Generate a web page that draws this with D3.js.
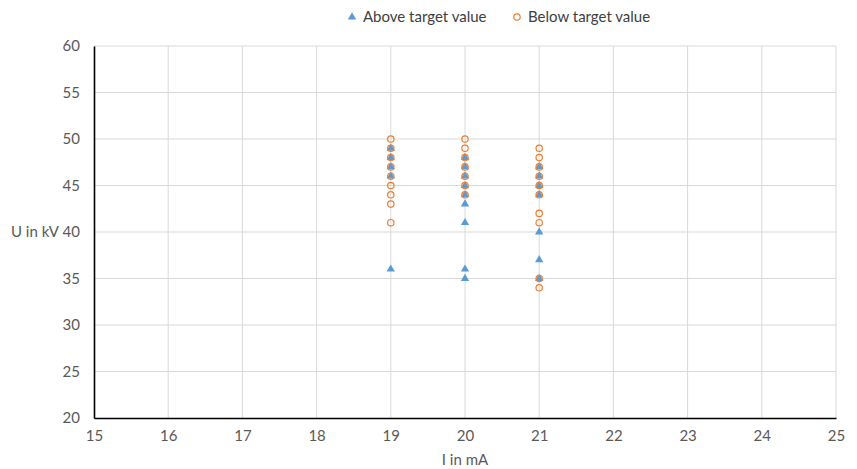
<!DOCTYPE html>
<html>
<head>
<meta charset="utf-8">
<script src="https://cdn.jsdelivr.net/npm/d3@7"></script>
<style>
  body { margin: 0; background: #fff; }
  svg { display: block; font-family: Lato, "Open Sans", sans-serif; }
</style>
</head>
<body>
<svg id="chart" width="857" height="469"></svg>
<script>
// Current (mA) and voltage (kV) readings, split by target outcome
const aboveI = [19, 19, 19, 19, 19,
                20, 20, 20, 20, 20, 20, 20, 20, 20,
                21, 21, 21, 21, 21, 21, 21];
const aboveU = [49, 48, 47, 46, 36,
                48, 47, 46, 45, 44, 43, 41, 36, 35,
                47, 46, 45, 44, 40, 37, 35];

const belowI = [19, 19, 19, 19, 19, 19, 19, 19, 19,
                20, 20, 20, 20, 20, 20, 20,
                21, 21, 21, 21, 21, 21, 21, 21, 21, 21];
const belowU = [50, 49, 48, 47, 46, 45, 44, 43, 41,
                50, 49, 48, 47, 46, 45, 44,
                49, 48, 47, 46, 45, 44, 42, 41, 35, 34];

const xTicks = [15, 16, 17, 18, 19, 20, 21, 22, 23, 24, 25];
const yTicks = [20, 25, 30, 35, 40, 45, 50, 55, 60];
const seriesNames = ["Above target value", "Below target value"];

const blue = "#5B9BD5", orange = "#ED7D31";
const svg = d3.select("#chart");
const plotL = 94, plotR = 836, plotT = 46, plotB = 418;

const x = d3.scaleLinear().domain([15, 25]).range([plotL, plotR]);
const y = d3.scaleLinear().domain([20, 60]).range([plotB, plotT]);

// gridlines
svg.append("g").selectAll("line").data(xTicks.slice(1)).join("line")
  .attr("x1", d => x(d)).attr("x2", d => x(d))
  .attr("y1", plotT).attr("y2", plotB)
  .attr("stroke", "#d9d9d9").attr("stroke-width", 1);
svg.append("g").selectAll("line").data(yTicks.slice(1)).join("line")
  .attr("x1", plotL).attr("x2", plotR)
  .attr("y1", d => y(d)).attr("y2", d => y(d))
  .attr("stroke", "#d9d9d9").attr("stroke-width", 1);

// axes
const xAxis = svg.append("g").attr("transform", `translate(0,${plotB})`)
  .call(d3.axisBottom(x).tickValues(xTicks).tickSize(0).tickPadding(12).tickFormat(d3.format("d")));
const yAxis = svg.append("g").attr("transform", `translate(${plotL},0)`)
  .call(d3.axisLeft(y).tickValues(yTicks).tickSize(0).tickPadding(14).tickFormat(d3.format("d")));
[xAxis, yAxis].forEach(a => {
  a.select(".domain").attr("stroke", "#000").attr("stroke-width", 1.6);
  a.selectAll("text").attr("fill", "#595959").style("font-size", "15px")
    .style("font-family", "Lato, 'Open Sans', sans-serif");
});

// axis titles
svg.append("text").attr("x", x(20)).attr("y", 465).attr("text-anchor", "middle")
  .attr("fill", "#595959").style("font-size", "15px").text("I in mA");
svg.append("text").attr("x", 11).attr("y", y(40) + 5).attr("text-anchor", "start")
  .attr("fill", "#595959").style("font-size", "15px").text("U in kV");

// markers
const tri = d3.symbol().type(d3.symbolTriangle).size(30);
svg.append("g").selectAll("path").data(aboveI.map((d, i) => [d, aboveU[i]])).join("path")
  .attr("d", tri)
  .attr("transform", d => `translate(${x(d[0])},${y(d[1])})`)
  .attr("fill", blue);
svg.append("g").selectAll("circle").data(belowI.map((d, i) => [d, belowU[i]])).join("circle")
  .attr("cx", d => x(d[0])).attr("cy", d => y(d[1])).attr("r", 3.2)
  .attr("fill", "none").attr("stroke", orange).attr("stroke-width", 1.2);

// legend
const lg = svg.append("g").style("font-size", "15px");
lg.append("path").attr("d", tri).attr("transform", "translate(352,17)").attr("fill", blue);
lg.append("text").attr("x", 363).attr("y", 22).attr("fill", "#404040").text(seriesNames[0]);
lg.append("circle").attr("cx", 517).attr("cy", 17).attr("r", 3.2)
  .attr("fill", "none").attr("stroke", orange).attr("stroke-width", 1.2);
lg.append("text").attr("x", 528).attr("y", 22).attr("fill", "#404040").text(seriesNames[1]);
</script>
</body>
</html>
